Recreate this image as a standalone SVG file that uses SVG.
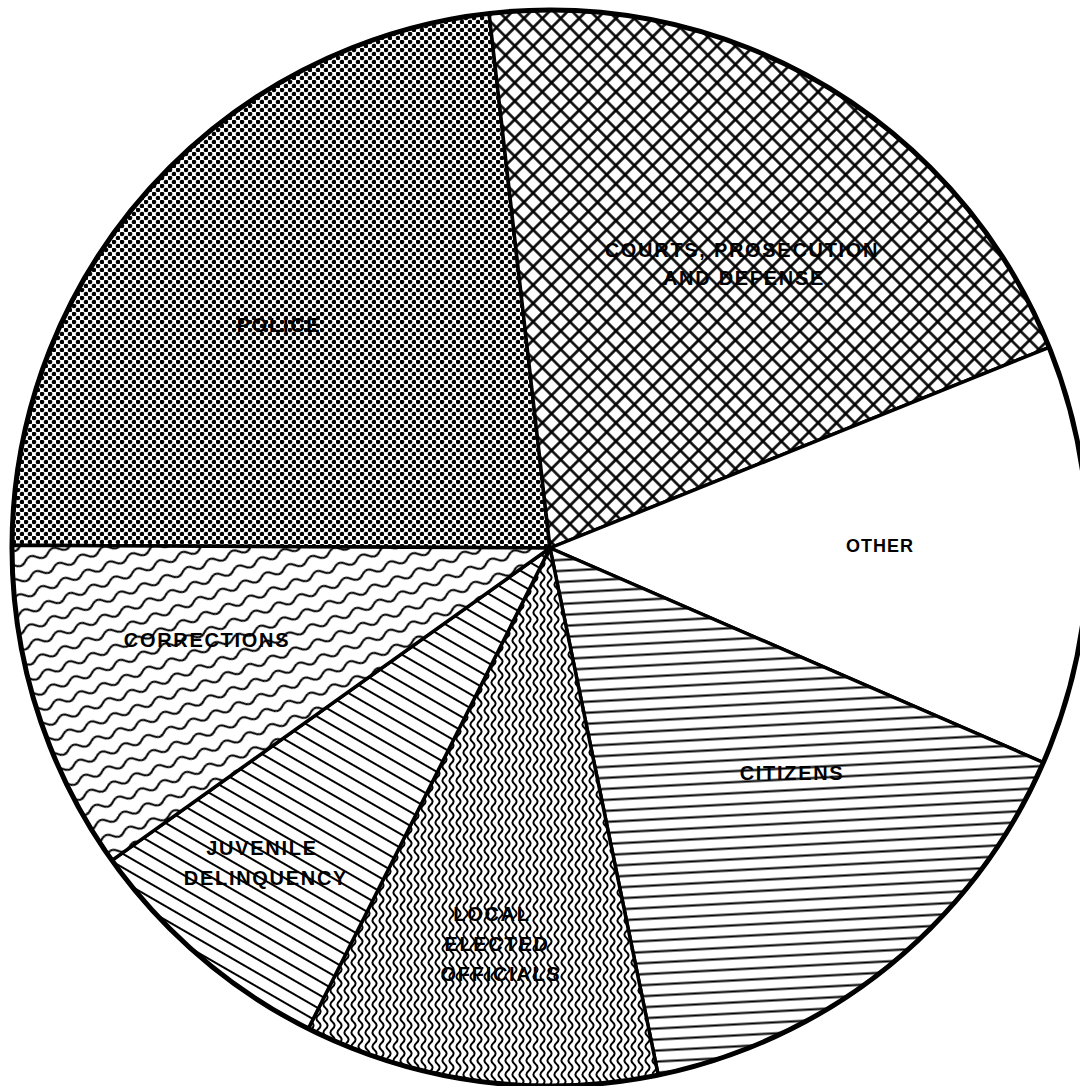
<svg xmlns="http://www.w3.org/2000/svg" width="1080" height="1086" viewBox="0 0 1080 1086">
<style>
.slice{stroke:#000;stroke-width:3.5;stroke-linejoin:round}
.lbl{font-family:"Liberation Sans",Arial,sans-serif;font-weight:bold;font-size:20px;letter-spacing:1.7px;fill:#000;text-anchor:middle}
.lbl-s{font-size:18px;letter-spacing:1px}
</style>
<defs>
<pattern id="pDots" width="8" height="8" patternUnits="userSpaceOnUse">
<rect width="8" height="8" fill="#fff"/>
<circle cx="2" cy="2" r="2.3" fill="#000"/>
<circle cx="6" cy="6" r="2.3" fill="#000"/>
</pattern>
<pattern id="pCross" width="13" height="13" patternUnits="userSpaceOnUse" patternTransform="rotate(45)">
<rect width="13" height="13" fill="#fff"/>
<path d="M-1 6.5H14M6.5 -1V14" stroke="#000" stroke-width="2.6"/>
</pattern>
<pattern id="pHoriz" width="20" height="11" patternUnits="userSpaceOnUse" patternTransform="rotate(-3)">
<rect width="20" height="11" fill="#fff"/>
<path d="M-1 5.5H21" stroke="#000" stroke-width="2.1"/>
</pattern>
<pattern id="pDiag" width="20" height="12" patternUnits="userSpaceOnUse" patternTransform="rotate(30)">
<rect width="20" height="12" fill="#fff"/>
<path d="M-1 6H21" stroke="#000" stroke-width="2"/>
</pattern>
<pattern id="pVWave" width="7" height="14" patternUnits="userSpaceOnUse">
<rect width="7" height="14" fill="#fff"/>
<path d="M3.5 -0.5 L3.5 0 C6.3 2.3 6.3 4.7 3.5 7 C0.7 9.3 0.7 11.7 3.5 14 L3.5 14.5" fill="none" stroke="#000" stroke-width="2"/>
</pattern>
<pattern id="pWave" width="24" height="16" patternUnits="userSpaceOnUse" patternTransform="rotate(-20)">
<rect width="24" height="16" fill="#fff"/>
<path d="M-0.5 8 L0 8 Q6 2 12 8 T24 8 L24.5 8" fill="none" stroke="#000" stroke-width="2"/>
</pattern>
</defs>
<rect width="1080" height="1086" fill="#fff"/>
<g id="police">
<path class="slice" fill="url(#pDots)" d="M550 548 L12 545.2 A538 538 0 0 1 489.1 13.5 Z"/>
<text class="lbl" x="279" y="332">POLICE</text>
</g>
<g id="courts">
<path class="slice" fill="url(#pCross)" d="M550 548 L489.1 13.5 A538 538 0 0 1 1049.2 347.3 Z"/>
<text class="lbl" x="742" y="257">COURTS, PROSECUTION</text>
<text class="lbl" x="744" y="285">AND DEFENSE</text>
</g>
<g id="other">
<path class="slice" fill="#fff" d="M550 548 L1049.2 347.3 A538 538 0 0 1 1043.4 762.5 Z"/>
<text class="lbl lbl-s" x="880" y="552">OTHER</text>
</g>
<g id="citizens">
<path class="slice" fill="url(#pHoriz)" d="M550 548 L1043.4 762.5 A538 538 0 0 1 658.2 1075 Z"/>
<text class="lbl" x="792" y="780">CITIZENS</text>
</g>
<g id="local-elected-officials">
<path class="slice" fill="url(#pVWave)" d="M550 548 L658.2 1075 A538 538 0 0 1 308.3 1028.6 Z"/>
<text class="lbl" x="492" y="921">LOCAL</text>
<text class="lbl" x="497" y="951">ELECTED</text>
<text class="lbl" x="501" y="981">OFFICIALS</text>
</g>
<g id="juvenile-delinquency">
<path class="slice" fill="url(#pDiag)" d="M550 548 L308.3 1028.6 A538 538 0 0 1 112 860.4 Z"/>
<text class="lbl" x="262" y="855">JUVENILE</text>
<text class="lbl" x="266" y="885">DELINQUENCY</text>
</g>
<g id="corrections">
<path class="slice" fill="url(#pWave)" d="M550 548 L112 860.4 A538 538 0 0 1 12 545.2 Z"/>
<text class="lbl" x="207" y="647">CORRECTIONS</text>
</g>
<g id="outline">
<circle cx="550" cy="548" r="538" fill="none" stroke="#000" stroke-width="5"/>
</g>
</svg>
